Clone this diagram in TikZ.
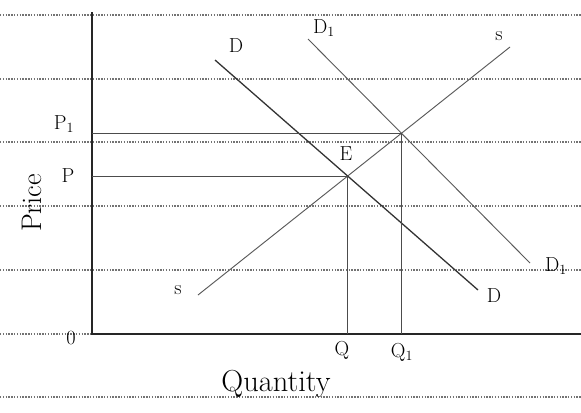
\documentclass[tikz,border=0pt]{standalone}
\usepackage{tikz}
\usetikzlibrary{positioning}

\begin{document}
\begin{tikzpicture}[
  x=0.03cm, y=-0.03cm,
  ruled/.style={dash pattern=on 1.2pt off 1.2pt, line width=1.8pt, black!55},
  axis/.style={line width=1pt, black!85},
  curve/.style={line width=0.8pt, black!65},
  dcurve/.style={line width=1.1pt, black!80},
  guide/.style={line width=0.6pt, black!70},
  lbl/.style={font=\LARGE, inner sep=1pt}
]
\useasboundingbox (0,0) rectangle (581,412);
% notebook ruling
\foreach \y in {15,79,142,206,270,334,397}
  \draw[ruled] (0,\y) -- (581,\y);

% axes
\coordinate (origin) at (92,334);
\coordinate (ytop) at (92,12);
\coordinate (xend) at (581,334);
\draw[axis] (ytop) -- (origin) -- (xend);

% curve ends
\coordinate (Dtop) at (215,60);
\coordinate (Dbot) at (478,290);
\coordinate (Donetop) at (308,39);
\coordinate (Donebot) at (530,263);
\coordinate (Sbot) at (198,295);
\coordinate (Stop) at (510,47);
\coordinate (E) at (intersection of Sbot--Stop and Dtop--Dbot);
\coordinate (Eone) at (intersection of Sbot--Stop and Donetop--Donebot);

\draw[dcurve] (Dtop) -- (Dbot);
\draw[curve] (Donetop) -- (Donebot);
\draw[curve] (Sbot) -- (Stop);

% price and quantity guides
\draw[guide] (origin |- E) -- (E) -- (E |- origin);
\draw[guide] (origin |- Eone) -- (Eone) -- (Eone |- origin);

% labels
\node[lbl] (labDtop) at (236,46) {D};
\node[lbl] (labDbot) at (494,296) {D};
\node[lbl] (labDonetop) at (324,28) {D$_1$};
\node[lbl] (labDonebot) at (556,266) {D$_1$};
\node[lbl] (labStop) at (499,36) {s};
\node[lbl] (labSbot) at (178,290) {s};
\node[lbl] (labE) at (346,154) {E};
\node[lbl] (labPone) at (64,124) {P$_1$};
\node[lbl] (labP) at (68,176) {P};
\node[lbl] (labQ) at (342,350) {Q};
\node[lbl] (labQone) at (402,352) {Q$_1$};
\node[lbl] (labO) at (71,338) {0};
\node[lbl, rotate=90, scale=1.4] (labPrice) at (32,203) {Price};
\node[lbl, scale=1.5] (labQty) at (276,384) {Quantity};
\end{tikzpicture}
\end{document}
